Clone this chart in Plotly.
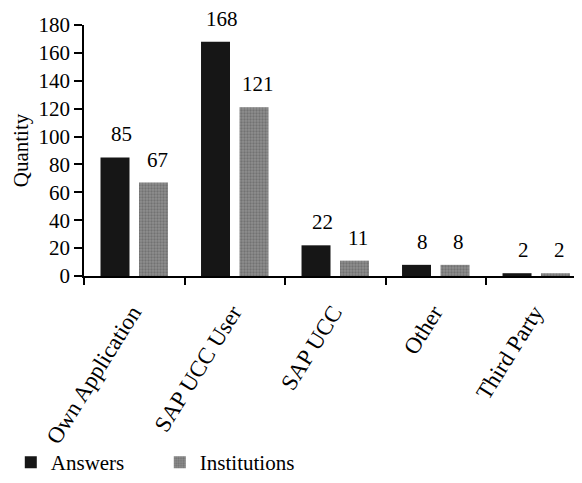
import plotly.graph_objects as go

categories = ["Own Application", "SAP UCC User", "SAP UCC", "Other", "Third Party"]
answers = [85, 168, 22, 8, 2]
institutions = [67, 121, 11, 8, 2]
y_ticks = [0, 20, 40, 60, 80, 100, 120, 140, 160, 180]

FONT = "Liberation Serif"

fig = go.Figure()
fig.add_trace(go.Bar(
    name="Answers", x=categories, y=answers,
    marker=dict(color="#161616", line=dict(width=0)),
))
fig.add_trace(go.Bar(
    name="Institutions", x=categories, y=institutions,
    marker=dict(color="#8e8e8e", line=dict(width=0),
                pattern=dict(shape=".", fgcolor="#555555", size=3, solidity=0.45)),
))

for c, a, b in zip(categories, answers, institutions):
    fig.add_annotation(x=c, y=a, text=str(a), showarrow=False, yanchor="bottom",
                       xshift=-19 + 6, yshift=9, font=dict(family=FONT, size=21, color="black"))
    fig.add_annotation(x=c, y=b, text=str(b), showarrow=False, yanchor="bottom",
                       xshift=19 + 4, yshift=9, font=dict(family=FONT, size=21, color="black"))

fig.update_layout(
    width=574, height=475,
    margin=dict(l=76, r=0, t=17, b=207),
    paper_bgcolor="white", plot_bgcolor="white",
    barmode="group", bargap=0.234, bargroupgap=0.247,
    font=dict(family=FONT, size=21, color="black"),
    showlegend=True,
    legend=dict(orientation="h", x=-0.147, xanchor="left", y=-0.745, yanchor="middle",
                font=dict(family=FONT, size=21, color="black"),
                bgcolor="rgba(0,0,0,0)", entrywidth=104, itemsizing="constant"),
)
fig.update_xaxes(
    type="category", range=[-0.5, 4.455], showline=True, linecolor="black", linewidth=1.5,
    ticks="outside", tickson="boundaries", ticklen=7, tickcolor="black", tickwidth=1.5,
    tickangle=-58, ticklabelstandoff=12, ticklabelshift=-2,
    showgrid=False, zeroline=False, automargin=False,
    tickfont=dict(family=FONT, size=23, color="black"),
)
fig.update_yaxes(
    range=[0, 180], tickvals=y_ticks, showline=True, linecolor="black", linewidth=1.5,
    ticks="outside", ticklen=8, tickcolor="black", tickwidth=1.5, showgrid=False,
    zeroline=False, automargin=False, tickfont=dict(family=FONT, size=21, color="black"),
    title=dict(text="Quantity", font=dict(family=FONT, size=21, color="black"), standoff=4),
)

fig.write_html("out.html")
